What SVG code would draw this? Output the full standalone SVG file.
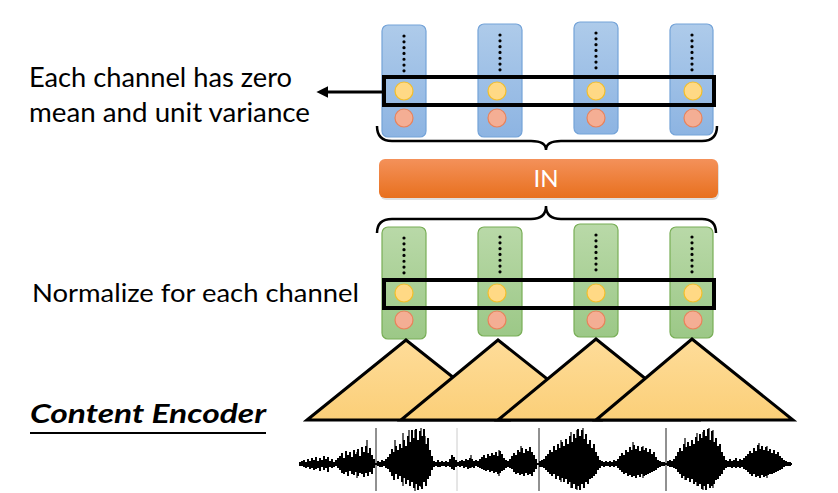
<svg xmlns="http://www.w3.org/2000/svg" width="838" height="493" viewBox="0 0 838 493">
<defs>
<linearGradient id="gBlue" x1="0" y1="0" x2="0" y2="1"><stop offset="0" stop-color="#AECBEA"/><stop offset="1" stop-color="#8DB4E2"/></linearGradient>
<linearGradient id="gGreen" x1="0" y1="0" x2="0" y2="1"><stop offset="0" stop-color="#B9D9A8"/><stop offset="1" stop-color="#9CC887"/></linearGradient>
<linearGradient id="gOrange" x1="0" y1="0" x2="0" y2="1"><stop offset="0" stop-color="#F4915A"/><stop offset="1" stop-color="#E8701E"/></linearGradient>
<linearGradient id="gTri" x1="0" y1="0" x2="0" y2="1"><stop offset="0" stop-color="#FEDC99"/><stop offset="1" stop-color="#FBCF78"/></linearGradient>
<marker id="arr" viewBox="0 0 10 10" refX="2" refY="5" markerWidth="4" markerHeight="4" orient="auto-start-reverse"><path d="M0 0L10 5L0 10z" fill="#000"/></marker>
</defs>
<style>
.txt{font-family:Lato,"Open Sans","Liberation Sans",sans-serif;fill:#000}
.blue{fill:url(#gBlue);stroke:#74A3D8;stroke-width:1.2}
.green{fill:url(#gGreen);stroke:#78AE56;stroke-width:1.2}
.yel{fill:#FFD985;stroke:#F3BE2A;stroke-width:1.2}
.red{fill:#F4AE94;stroke:#E9825A;stroke-width:1.2}
.dots{stroke:#000;stroke-width:3.2;stroke-linecap:round;stroke-dasharray:0.01 5.8;fill:none}
.box{fill:none;stroke:#000;stroke-width:4}
.brace{fill:none;stroke:#000;stroke-width:2.5}
.tri{fill:url(#gTri);stroke:#000;stroke-width:3;stroke-linejoin:miter}
</style>
<rect width="838" height="493" fill="#fff"/>

<g id="label-top">
<text class="txt" x="29" y="87" font-size="26" textLength="263" lengthAdjust="spacingAndGlyphs">Each channel has zero</text>
<text class="txt" x="29" y="122" font-size="26" textLength="281" lengthAdjust="spacingAndGlyphs">mean and unit variance</text>
</g>
<g id="label-mid">
<text class="txt" x="32" y="302" font-size="25" textLength="327" lengthAdjust="spacingAndGlyphs">Normalize for each channel</text>
</g>
<g id="label-encoder">
<text class="txt" x="30" y="423" font-size="27" font-weight="bold" font-style="italic" textLength="236" lengthAdjust="spacingAndGlyphs">Content Encoder</text>
<line x1="30" y1="433" x2="266" y2="433" stroke="#000" stroke-width="2"/>
</g>

<g id="top-columns">
<g id="top-col-1"><rect class="blue" x="382" y="25" width="44" height="112" rx="6"/><path class="dots" d="M404 36V73"/><circle class="yel" cx="404" cy="91" r="9"/><circle class="red" cx="404" cy="118" r="9"/></g>
<g id="top-col-2"><rect class="blue" x="478" y="24" width="44" height="113" rx="6"/><path class="dots" d="M500 35V72"/><circle class="yel" cx="497" cy="91" r="9"/><circle class="red" cx="497" cy="118" r="9"/></g>
<g id="top-col-3"><rect class="blue" x="574" y="22" width="44" height="112" rx="6"/><path class="dots" d="M596 33V68"/><circle class="yel" cx="596" cy="91" r="9"/><circle class="red" cx="596" cy="118" r="9"/></g>
<g id="top-col-4"><rect class="blue" x="670" y="24" width="43" height="111" rx="6"/><path class="dots" d="M692 35V70"/><circle class="yel" cx="693" cy="91" r="9"/><circle class="red" cx="693" cy="118" r="9"/></g>
<rect id="top-box" class="box" x="384" y="77" width="330" height="28"/>
</g>

<g id="IN">
<rect x="380" y="161" width="339" height="39" rx="6" fill="#000" opacity="0.12"/>
<rect x="379" y="159" width="339" height="39" rx="6" fill="url(#gOrange)"/>
<text x="546" y="187" font-size="24" text-anchor="middle" fill="#fff" font-family="Lato,'Open Sans','Liberation Sans',sans-serif">IN</text>
</g>

<g id="bottom-columns">
<g id="bot-col-1"><rect class="green" x="382" y="227" width="44" height="112" rx="6"/><path class="dots" d="M404 238V274"/><circle class="yel" cx="404" cy="293" r="9"/><circle class="red" cx="404" cy="320" r="9"/></g>
<g id="bot-col-2"><rect class="green" x="478" y="227" width="44" height="109" rx="6"/><path class="dots" d="M500 237V273"/><circle class="yel" cx="497" cy="293" r="9"/><circle class="red" cx="497" cy="320" r="9"/></g>
<g id="bot-col-3"><rect class="green" x="574" y="224" width="44" height="113" rx="6"/><path class="dots" d="M596 235V271"/><circle class="yel" cx="596" cy="293" r="9"/><circle class="red" cx="596" cy="320" r="9"/></g>
<g id="bot-col-4"><rect class="green" x="670" y="227" width="43" height="111" rx="6"/><path class="dots" d="M692 237V273"/><circle class="yel" cx="693" cy="293" r="9"/><circle class="red" cx="693" cy="320" r="9"/></g>
<rect id="bot-box" class="box" x="384" y="280" width="330" height="28"/>
</g>

<g id="encoder">
<path class="tri" d="M307 420L406 340L507 420Z"/>
<path class="tri" d="M401 420L498 340L599 420Z"/>
<path class="tri" d="M498 420L596 339L697 420Z"/>
<path class="tri" d="M596 420L692 339L793 420Z"/>
</g>

<g id="waveform">
<line x1="376" y1="428" x2="376" y2="491" stroke="#222" stroke-width="1"/>
<line x1="457" y1="428" x2="457" y2="491" stroke="#ccc" stroke-width="1"/>
<line x1="539" y1="428" x2="539" y2="491" stroke="#222" stroke-width="1"/>
<line x1="666" y1="428" x2="666" y2="491" stroke="#222" stroke-width="1"/>
<line x1="300" y1="464" x2="792" y2="464" stroke="#000" stroke-width="2"/>
<path fill="none" stroke="#000" stroke-width="2" d="M300 462V466M302 461V466M304 460V467M306 462V468M308 459V467M310 461V469M312 458V468M314 460V470M316 457V469M318 461V468M320 458V471M322 460V467M324 456V470M326 459V468M328 457V472M330 461V467M332 459V468M334 462V467M336 460V466M338 458V468M340 456V470M342 453V473M344 458V474M346 451V472M348 455V476M350 452V471M352 457V474M354 450V475M356 454V472M358 449V476M360 456V473M362 447V474M364 452V477M366 446V473M368 453V476M370 448V472M372 455V474M374 459V468M378 461V466M380 462V467M382 460V467M384 461V466M386 459V468M388 457V469M390 454V472M392 449V476M394 452V480M396 446V474M398 450V479M400 444V476M402 448V482M404 440V478M406 446V484M408 436V480M410 442V486M412 430V482M414 438V488M416 429V484M418 440V490M420 431V486M422 436V489M424 429V482M426 444V486M428 438V479M430 450V476M432 456V470M434 461V467M436 462V466M438 460V467M440 462V467M442 461V466M444 462V466M446 461V467M448 462V466M450 459V467M452 455V469M454 457V470M456 460V467M458 462V466M460 461V467M462 460V466M464 461V468M466 459V467M468 460V469M470 458V468M472 459V467M474 461V468M476 460V466M478 461V467M480 459V468M482 457V469M484 455V470M486 458V471M488 454V470M490 456V472M492 453V471M494 455V473M496 452V472M498 456V474M500 451V473M502 454V471M504 458V470M506 460V468M508 461V467M510 459V468M512 456V469M514 453V472M516 455V474M518 450V473M520 452V475M522 448V474M524 453V476M526 449V473M528 451V475M530 447V474M532 452V476M534 455V472M536 459V469M540 461V467M542 460V467M544 459V468M546 456V470M548 454V472M550 450V474M552 452V476M554 446V474M556 450V479M558 444V476M560 448V480M562 442V478M564 446V482M566 439V479M568 444V484M570 436V482M572 442V488M574 434V484M576 438V489M578 429V486M580 436V490M582 430V484M584 439V488M586 434V482M588 444V484M590 440V479M592 448V478M594 444V476M596 452V474M598 456V470M600 460V468M602 461V466M604 462V467M606 461V466M608 462V466M610 461V467M612 462V466M614 460V467M616 461V466M618 459V468M620 456V470M622 453V472M624 455V474M626 450V473M628 452V476M630 447V475M632 450V477M634 445V476M636 449V478M638 446V475M640 451V477M642 447V474M644 450V476M646 448V475M648 452V474M650 449V473M652 454V472M654 452V471M656 457V470M658 460V468M660 461V467M662 462V466M664 462V466M668 461V466M670 460V467M672 461V467M674 459V468M676 456V469M678 452V472M680 448V474M682 451V478M684 444V476M686 447V480M688 442V478M690 446V482M692 440V479M694 444V484M696 437V482M698 441V486M700 434V484M702 438V489M704 430V486M706 436V490M708 429V484M710 440V488M712 431V486M714 442V484M716 438V480M718 446V479M720 444V476M722 452V474M724 456V470M726 460V468M728 461V467M730 459V467M732 461V468M734 460V467M736 458V468M738 461V467M740 459V468M742 460V467M744 458V469M746 456V470M748 454V472M750 451V474M752 453V476M754 448V474M756 451V477M758 445V476M760 449V478M762 446V475M764 450V477M766 447V476M768 451V475M770 449V474M772 453V474M774 450V473M776 454V472M778 452V471M780 456V470M782 458V469M784 460V467M786 461V466M788 462V466M790 462V466"/>
<path fill="none" stroke="#000" stroke-width="1.2" d="M345 458V470M357 452V478M367 440V470M395 440V470M403 433V486M409 430V478M415 430V491M421 428V487M425 436V480M471 455V468M499 450V476M521 446V470M561 440V482M571 432V488M577 430V490M583 428V480M633 442V470M643 446V478M685 438V480M697 433V486M703 432V490M709 428V482M713 430V488M759 443V470M767 446V478"/>
</g>

<g id="connectors">
<path class="brace" d="M377 126Q377 141 392 141L531 141Q546 141 546 150Q546 141 561 141L702 141Q717 141 717 126"/>
<path class="brace" d="M377 233Q377 219 392 219L531 219Q546 219 546 206Q546 219 561 219L702 219Q716 219 716 233"/>
<line x1="384" y1="92" x2="326" y2="92" stroke="#000" stroke-width="3" marker-end="url(#arr)"/>
</g>
</svg>
